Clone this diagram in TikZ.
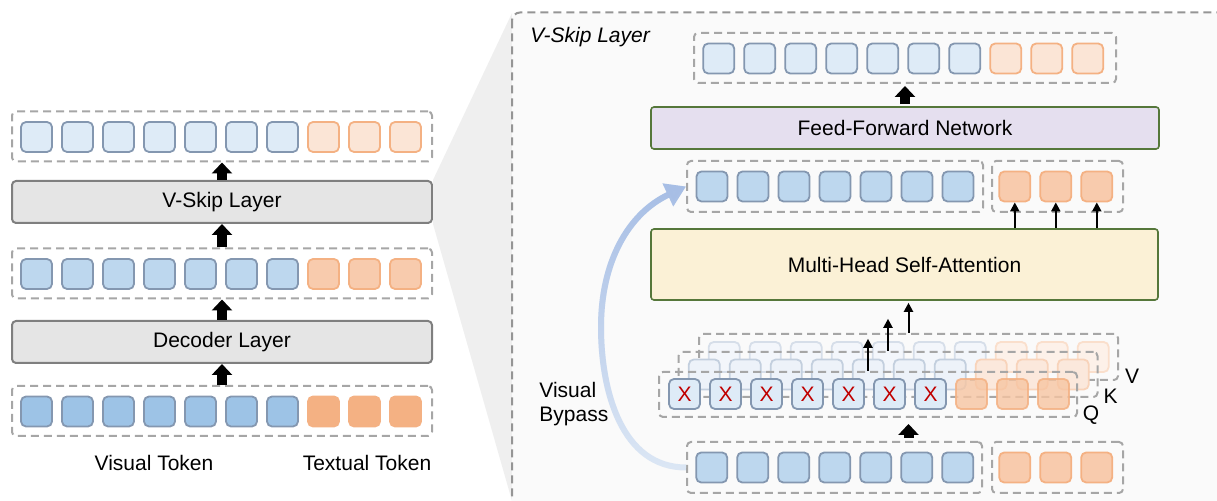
\documentclass[tikz,border=0pt]{standalone}
\usepackage{fontspec}
\setmainfont{Liberation Sans}
\usetikzlibrary{arrows.meta,fadings}
\definecolor{tokblue}{HTML}{8497B0}
\definecolor{visA}{HTML}{9DC3E6}
\definecolor{visB}{HTML}{BDD7EE}
\definecolor{visC}{HTML}{DEEBF7}
\definecolor{txtedge}{HTML}{F4B183}
\definecolor{txtA}{HTML}{F4B183}
\definecolor{txtB}{HTML}{F8CBAD}
\definecolor{txtC}{HTML}{FBE5D6}
\definecolor{dashgray}{HTML}{A6A6A6}
\definecolor{panelgray}{HTML}{959595}
\definecolor{boxgray}{HTML}{E5E5E5}
\definecolor{boxedge}{HTML}{7F7F7F}
\definecolor{ffnfill}{HTML}{E5DFEF}
\definecolor{mhsafill}{HTML}{FBF1D6}
\definecolor{greenedge}{HTML}{55773A}
\definecolor{bpdark}{HTML}{A7BEE5}
\definecolor{bplight}{HTML}{DCE7F5}
\definecolor{xred}{HTML}{C00000}
\definecolor{kvis}{HTML}{EDF2F9}
\definecolor{kvisedge}{HTML}{C3CFDE}
\definecolor{ktxt}{HTML}{FBE8DC}
\definecolor{ktxtedge}{HTML}{F8D3BA}
\definecolor{vvis}{HTML}{F3F6FB}
\definecolor{vvisedge}{HTML}{D6DEE9}
\definecolor{vtxt}{HTML}{FDF1E9}
\definecolor{vtxtedge}{HTML}{FADFCC}
\definecolor{trapgray}{HTML}{EFEFEF}
\definecolor{panelfill}{HTML}{FAFAFA}
\begin{document}
\begin{tikzpicture}[x=0.5pt,y=-0.5pt,
  font=\fontsize{10.5}{12}\selectfont,
  tok/.style={rectangle, rounded corners=2.5pt, minimum width=15.5pt, minimum height=15pt, inner sep=0pt, line width=0.9pt},
  visa/.style={tok, fill=visA, draw=tokblue},
  visb/.style={tok, fill=visB, draw=tokblue},
  visc/.style={tok, fill=visC, draw=tokblue},
  txta/.style={tok, fill=txtA, draw=txtedge},
  txtb/.style={tok, fill=txtB, draw=txtedge},
  txtc/.style={tok, fill=txtC, draw=txtedge},
  qvis/.style={tok, fill=visC, draw=tokblue, text=xred},
  qtxt/.style={tok, fill=txtB!75!txtA, draw=txtedge, fill opacity=0.8, draw opacity=0.85},
  kvtok/.style={tok, fill=kvis, draw=kvisedge},
  kttok/.style={tok, fill=ktxt, draw=ktxtedge},
  vvtok/.style={tok, fill=vvis, draw=vvisedge},
  vttok/.style={tok, fill=vtxt, draw=vtxtedge},
  cont/.style={rectangle, draw=dashgray, line width=1pt, dash pattern=on 4pt off 2.5pt, rounded corners=2pt, inner sep=0pt},
  graybox/.style={rectangle, fill=boxgray, draw=boxedge, line width=1pt, rounded corners=2pt, minimum width=210pt, minimum height=21pt, inner sep=0pt},
  greenbox/.style={rectangle, draw=greenedge, line width=0.8pt, rounded corners=1.5pt, inner sep=0pt},
  blockarrow/.style={line width=5pt, -{Triangle[width=10pt,length=5.5pt]}},
  thinarrow/.style={line width=1pt, -{Triangle[width=4.5pt,length=4.5pt]}},
  lbl/.style={inner sep=0pt}
]
\clip (0,0) rectangle (1217,501);

% ---------------- left column ----------------
\node[cont, minimum width=210pt, minimum height=25pt] (lA) at (222,136.5) {};
\node[graybox] (vskip) at (222,202) {V-Skip Layer};
\node[cont, minimum width=210pt, minimum height=25pt] (lB) at (222,273.5) {};
\node[graybox] (dec) at (222,342) {Decoder Layer};
\node[cont, minimum width=210pt, minimum height=25pt] (lC) at (222,411) {};

\foreach \i in {0,...,6} {
  \node[visc] (la\i) at ({36.5+41*\i},137) {};
  \node[visb] (lb\i) at ({36.5+41*\i},274) {};
  \node[visa] (lc\i) at ({36.5+41*\i},411.5) {};
}
\foreach \i in {7,8,9} {
  \node[txtc] (la\i) at ({36.5+41*\i},137) {};
  \node[txtb] (lb\i) at ({36.5+41*\i},274) {};
  \node[txta] (lc\i) at ({36.5+41*\i},411.5) {};
}
\node[lbl] (vislbl) at (154,463) {Visual Token};
\node[lbl] (txtlbl) at (367,463) {Textual Token};

\draw[blockarrow] (lC.north) -- (dec.south);
\draw[blockarrow] (dec.north) -- (lB.south);
\draw[blockarrow] (lB.north) -- (vskip.south);
\draw[blockarrow] (vskip.north) -- (lA.south);

% ---------------- zoom trapezoid and panel ----------------
\coordinate (pnw) at (512,13);
\coordinate (psw) at (512,501);
\fill[trapgray] (vskip.north east) -- (pnw) -- (psw) -- (vskip.south east) -- cycle;
\draw[draw=panelgray, fill=panelfill, line width=1pt, dash pattern=on 4pt off 2.5pt, rounded corners=4pt]
  (512,12.5) rectangle (1260,540);
\node[lbl, anchor=west, font=\fontsize{10.5}{12}\selectfont\itshape] (ptitle) at (530,37) {V-Skip Layer};

% ---------------- right panel ----------------
% output row
\node[cont, minimum width=211pt, minimum height=25pt] (outc) at (905,58) {};
\foreach \i in {0,...,6} \node[visc] (o\i) at ({718.7+41*\i},58.5) {};
\foreach \i in {7,8,9} \node[txtc] (o\i) at ({718.7+41*\i},58.5) {};

\node[greenbox, fill=ffnfill, minimum width=254pt, minimum height=21pt] (ffn) at (905,128) {Feed-Forward Network};

% middle row
\node[cont, minimum width=148pt, minimum height=25.5pt] (mvis) at (835,186.5) {};
\node[cont, minimum width=65.5pt, minimum height=25.5pt] (mtxt) at (1057.5,186.5) {};
\foreach \i in {0,...,6} \node[visb] (m\i) at ({712+41*\i},186.5) {};
\foreach \j/\i in {0/7,1/8,2/9} \node[txtb] (m\i) at ({1014.8+41*\j},186.5) {};

\node[greenbox, fill=mhsafill, minimum width=253.5pt, minimum height=35.5pt] (mhsa) at (904.5,264.5) {Multi-Head Self-Attention};

% V layer
\node[cont, minimum width=209.5pt, minimum height=23pt] (vbox) at (908.5,357) {};
\foreach \i in {0,...,6} \node[vvtok] (v\i) at ({724.2+41*\i},357) {};
\foreach \i in {7,8,9} \node[vttok] (v\i) at ({724.2+41*\i},357) {};
% K layer
\node[cont, minimum width=209.5pt, minimum height=22.5pt] (kbox) at (888,374.5) {};
\foreach \i in {0,...,6} \node[kvtok] (k\i) at ({704.3+41*\i},374.5) {};
\foreach \i in {7,8,9} \node[kttok] (k\i) at ({704.3+41*\i},374.5) {};
% Q layer
\node[cont, minimum width=209pt, minimum height=22.5pt] (qbox) at (868,394.5) {};
\foreach \i in {0,...,6} \node[qvis] (q\i) at ({684.5+41*\i},394) {X};
\foreach \i in {7,8,9} \node[qtxt] (q\i) at ({684.5+41*\i},394) {};

\node[lbl] (qlbl) at (1091,415) {Q};
\node[lbl] (klbl) at (1110.5,396) {K};
\node[lbl] (vlbl) at (1132,376) {V};

% input row
\node[cont, minimum width=147.5pt, minimum height=25.5pt] (ivis) at (834.5,467.5) {};
\node[cont, minimum width=65.5pt, minimum height=25.5pt] (itxt) at (1057.5,467.5) {};
\foreach \i in {0,...,6} \node[visb] (i\i) at ({711.7+41*\i},467.5) {};
\foreach \j/\i in {0/7,1/8,2/9} \node[txtb] (i\i) at ({1014.7+41*\j},467.5) {};

% arrows
\draw[blockarrow, shorten <=1.5pt, shorten >=3pt] (ivis.north -| vbox.south) -- (qbox.south -| vbox.south);
\draw[blockarrow, shorten <=1pt, shorten >=1pt] (ffn.north) -- (outc.south);
\draw[thinarrow, shorten >=19pt] (qbox.north) -- (qbox.north |- mhsa.south);
\draw[thinarrow, shorten >=9pt] (kbox.north) -- (kbox.north |- mhsa.south);
\draw[thinarrow, shorten >=1pt] (vbox.north) -- (vbox.north |- mhsa.south);
\foreach \i in {7,8,9} \draw[thinarrow] (mhsa.north -| m\i.south) -- (m\i.south);

% visual bypass
\coordinate (bpmid) at (601,327);
\draw[line width=3pt, bplight, -{Triangle[width=12pt,length=10pt]}]
  (ivis.west) to[out=180,in=-90] (bpmid) to[out=90,in=205] (mvis.west);
\draw[line width=3pt, bpdark, path fading=south, -{Triangle[width=12pt,length=10pt]}]
  (ivis.west) to[out=180,in=-90] (bpmid) to[out=90,in=205] (mvis.west);
\node[lbl, anchor=west, align=left] (bplbl) at (539,404) {Visual\\Bypass};
\end{tikzpicture}
\end{document}
